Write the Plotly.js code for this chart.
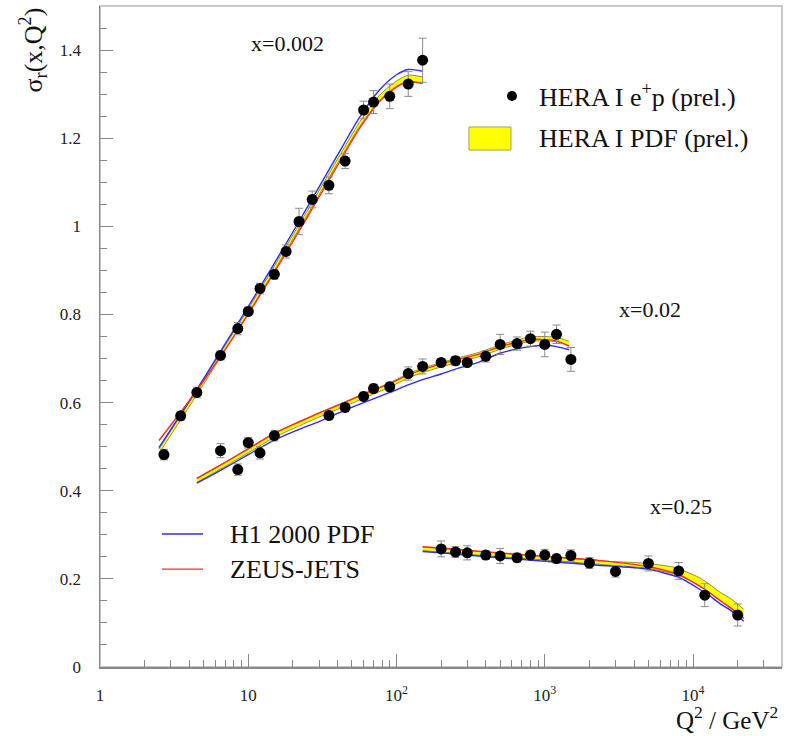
<!DOCTYPE html>
<html>
<head>
<meta charset="utf-8">
<script src="https://cdn.plot.ly/plotly-3.0.1.min.js"></script>
<style>
html,body{margin:0;padding:0;background:#fff;}
#chart{width:793px;height:736px;}
</style>
</head>
<body>
<div id="chart"></div>
<script>
// ---------- data points (HERA I e+p prel.) ----------
const q2Data002 = [2.7, 3.5, 4.5, 6.5, 8.5, 10, 12, 15, 18, 22, 27, 35, 45, 60, 70, 90, 120, 150];
const sigData002 = [0.482, 0.570, 0.623, 0.707, 0.768, 0.807, 0.859, 0.891, 0.943, 1.011, 1.061, 1.093, 1.148, 1.264, 1.282, 1.295, 1.323, 1.377];
const errData002 = [0.012, 0.010, 0.012, 0.010, 0.014, 0.010, 0.012, 0.011, 0.015, 0.030, 0.019, 0.019, 0.017, 0.020, 0.026, 0.028, 0.028, 0.050];

const q2Data02 = [6.5, 8.5, 10, 12, 15, 35, 45, 60, 70, 90, 120, 150, 200, 250, 300, 400, 500, 650, 800, 1000, 1200, 1500];
const sigData02 = [0.491, 0.448, 0.509, 0.486, 0.525, 0.571, 0.589, 0.614, 0.632, 0.636, 0.666, 0.682, 0.691, 0.695, 0.691, 0.705, 0.732, 0.734, 0.745, 0.732, 0.755, 0.698];
const errData02 = [0.016, 0.013, 0.012, 0.014, 0.012, 0.010, 0.010, 0.010, 0.010, 0.010, 0.015, 0.017, 0.008, 0.010, 0.008, 0.013, 0.023, 0.015, 0.017, 0.028, 0.021, 0.027];

const q2Data25 = [200, 250, 300, 400, 500, 650, 800, 1000, 1200, 1500, 2000, 3000, 5000, 8000, 12000, 20000];
const sigData25 = [0.268, 0.261, 0.259, 0.254, 0.252, 0.248, 0.254, 0.254, 0.246, 0.253, 0.236, 0.217, 0.235, 0.218, 0.163, 0.118];
const errData25 = [0.018, 0.012, 0.016, 0.010, 0.017, 0.010, 0.010, 0.013, 0.010, 0.013, 0.012, 0.013, 0.017, 0.019, 0.026, 0.025];

// ---------- curves x=0.002 ----------
const q2Curve002 = [2.5, 3.5, 4.5, 6.5, 10, 15, 22, 30, 42, 56, 77, 100, 120, 150];
const bandLo002 = [0.485, 0.561, 0.618, 0.703, 0.803, 0.900, 0.994, 1.071, 1.155, 1.225, 1.286, 1.318, 1.329, 1.325];
const bandHi002 = [0.495, 0.571, 0.628, 0.713, 0.813, 0.910, 1.004, 1.081, 1.165, 1.235, 1.298, 1.330, 1.343, 1.339];
const blue002 = [0.498, 0.573, 0.630, 0.716, 0.818, 0.916, 1.011, 1.089, 1.174, 1.246, 1.310, 1.344, 1.356, 1.352];
const red002 = [0.514, 0.578, 0.628, 0.705, 0.801, 0.896, 0.989, 1.066, 1.150, 1.221, 1.284, 1.316, 1.328, 1.324];

// ---------- curves x=0.02 ----------
const q2Curve02 = [4.5, 6.5, 10, 15, 22, 30, 43, 60, 90, 120, 150, 200, 250, 360, 500, 650, 800, 1000, 1200, 1460];
const bandLo02 = [0.419, 0.449, 0.486, 0.521, 0.547, 0.567, 0.589, 0.610, 0.635, 0.656, 0.668, 0.681, 0.690, 0.704, 0.721, 0.732, 0.739, 0.740, 0.738, 0.729];
const bandHi02 = [0.429, 0.459, 0.496, 0.531, 0.557, 0.577, 0.599, 0.620, 0.645, 0.666, 0.678, 0.691, 0.700, 0.714, 0.731, 0.742, 0.749, 0.750, 0.748, 0.739];
const blue02 = [0.417, 0.446, 0.482, 0.515, 0.539, 0.557, 0.580, 0.600, 0.623, 0.640, 0.652, 0.665, 0.676, 0.692, 0.712, 0.722, 0.727, 0.730, 0.727, 0.720];
const red02 = [0.428, 0.458, 0.495, 0.530, 0.556, 0.576, 0.598, 0.619, 0.643, 0.663, 0.675, 0.688, 0.697, 0.710, 0.727, 0.737, 0.743, 0.743, 0.740, 0.728];

// ---------- curves x=0.25 ----------
const q2Curve25 = [150, 200, 300, 500, 1000, 2300, 4900, 7800, 9000, 11000, 13000, 15000, 18000, 22000];
const bandLo25 = [0.264, 0.261, 0.256, 0.250, 0.243, 0.233, 0.224, 0.209, 0.200, 0.185, 0.169, 0.153, 0.135, 0.111];
const bandHi25 = [0.272, 0.269, 0.264, 0.258, 0.251, 0.241, 0.235, 0.225, 0.216, 0.203, 0.187, 0.171, 0.155, 0.131];
const blue25 = [0.262, 0.259, 0.254, 0.248, 0.240, 0.231, 0.222, 0.205, 0.195, 0.177, 0.161, 0.145, 0.128, 0.104];
const red25 = [0.273, 0.270, 0.265, 0.259, 0.251, 0.242, 0.228, 0.211, 0.201, 0.184, 0.168, 0.152, 0.133, 0.110];

// ---------- texts ----------
const xTickVals = [1, 10, 100, 1000, 10000];
const xTickText = ['1', '10', '10<sup>2</sup>', '10<sup>3</sup>', '10<sup>4</sup>'];
const yTickVals = [0, 0.2, 0.4, 0.6, 0.8, 1.0, 1.2, 1.4];
const yTickText = ['0', '0.2', '0.4', '0.6', '0.8', '1', '1.2', '1.4'];
const setLabels = ['x=0.002', 'x=0.02', 'x=0.25'];

const FONT = 'Liberation Serif, Times New Roman, serif';
const BLUE = '#2b2bff';
const RED = '#ff2a2a';
const BANDEDGE = 'rgba(70,70,0,0.85)';

const sets = [
  {q: q2Curve002, lo: bandLo002, hi: bandHi002, b: blue002, r: red002, dq: q2Data002, ds: sigData002, de: errData002},
  {q: q2Curve02, lo: bandLo02, hi: bandHi02, b: blue02, r: red02, dq: q2Data02, ds: sigData02, de: errData02},
  {q: q2Curve25, lo: bandLo25, hi: bandHi25, b: blue25, r: red25, dq: q2Data25, ds: sigData25, de: errData25}
];

const traces = [];
const lineShape = {shape: 'spline', smoothing: 0.7};
sets.forEach(s => {
  traces.push({x: s.q, y: s.hi, mode: 'lines', line: Object.assign({color: BANDEDGE, width: 0.7}, lineShape), hoverinfo: 'skip', showlegend: false});
  traces.push({x: s.q, y: s.lo, mode: 'lines', fill: 'tonexty', fillcolor: '#ffff00', line: Object.assign({color: BANDEDGE, width: 0.7}, lineShape), hoverinfo: 'skip', showlegend: false});
});
sets.forEach(s => {
  traces.push({x: s.q, y: s.b, mode: 'lines', line: Object.assign({color: BLUE, width: 1.4}, lineShape), showlegend: false});
});
sets.forEach(s => {
  traces.push({x: s.q, y: s.r, mode: 'lines', line: Object.assign({color: RED, width: 1.4}, lineShape), showlegend: false});
});
sets.forEach(s => {
  traces.push({
    x: s.dq, y: s.ds, mode: 'markers',
    marker: {symbol: 'circle', size: 11, color: '#000'},
    error_y: {type: 'data', array: s.de, visible: true, color: '#8a8a8a', thickness: 1, width: 4},
    showlegend: false
  });
});

const layout = {
  width: 793, height: 736,
  margin: {l: 100, r: 11, t: 6, b: 69, pad: 0},
  paper_bgcolor: '#fff', plot_bgcolor: '#fff',
  showlegend: false,
  font: {family: FONT, color: '#111'},
  xaxis: {
    type: 'log', range: [0, 4.6], autorange: false,
    tickmode: 'array', tickvals: xTickVals, ticktext: xTickText,
    ticks: 'inside', ticklen: 13, tickwidth: 1, tickcolor: '#888',
    minor: {ticks: 'inside', ticklen: 7, tickwidth: 1, tickcolor: '#888', dtick: 'D1', showgrid: false},
    showgrid: false, zeroline: false,
    showline: true, linecolor: '#888', linewidth: 1.5,
    tickfont: {family: FONT, size: 17, color: '#222'},
    ticklabelstandoff: 12
  },
  yaxis: {
    range: [0, 1.5], autorange: false,
    tickmode: 'array', tickvals: yTickVals, ticktext: yTickText,
    ticks: 'inside', ticklen: 13, tickwidth: 1, tickcolor: '#888',
    minor: {ticks: 'inside', ticklen: 7, tickwidth: 1, tickcolor: '#888', dtick: 0.05, showgrid: false},
    showgrid: false, zeroline: false,
    showline: true, linecolor: '#888', linewidth: 1.5,
    tickfont: {family: FONT, size: 17, color: '#222'},
    ticklabelstandoff: 14
  },
  shapes: [
    {type: 'rect', xref: 'paper', yref: 'paper', x0: 0, x1: 1, y0: 0, y1: 1, line: {color: '#b5b5b5', width: 1.5}, layer: 'below'},
    // legend symbols
    {type: 'circle', xref: 'paper', yref: 'paper', x0: 0.5968, x1: 0.6114, y0: 0.8563, y1: 0.8714, fillcolor: '#000', line: {color: '#000', width: 0}},
    {type: 'rect', xref: 'paper', yref: 'paper', x0: 0.541, x1: 0.6026, y0: 0.782, y1: 0.817, fillcolor: '#ffff00', line: {color: '#a0a070', width: 1}},
    {type: 'line', xref: 'paper', yref: 'paper', x0: 0.0909, x1: 0.151, y0: 0.2012, y1: 0.2012, line: {color: BLUE, width: 1.4}},
    {type: 'line', xref: 'paper', yref: 'paper', x0: 0.0909, x1: 0.151, y0: 0.148, y1: 0.148, line: {color: RED, width: 1.4}}
  ],
  annotations: [
    {text: setLabels[0], x: 1.268, y: 1.416, xref: 'x', yref: 'y', showarrow: false, font: {family: FONT, size: 22, color: '#111'}},
    {text: setLabels[1], x: 3.71, y: 0.812, xref: 'x', yref: 'y', showarrow: false, font: {family: FONT, size: 22, color: '#111'}},
    {text: setLabels[2], x: 3.919, y: 0.365, xref: 'x', yref: 'y', showarrow: false, font: {family: FONT, size: 22, color: '#111'}},
    {text: 'HERA I e<sup>+</sup>p (prel.)', xref: 'paper', yref: 'paper', x: 0.6408, y: 0.864, xanchor: 'left', yanchor: 'middle', showarrow: false, font: {family: FONT, size: 26, color: '#111'}},
    {text: 'HERA I PDF (prel.)', xref: 'paper', yref: 'paper', x: 0.6408, y: 0.799, xanchor: 'left', yanchor: 'middle', showarrow: false, font: {family: FONT, size: 26, color: '#111'}},
    {text: 'H1 2000 PDF', xref: 'paper', yref: 'paper', x: 0.1877, y: 0.2012, xanchor: 'left', yanchor: 'middle', showarrow: false, font: {family: FONT, size: 26, color: '#111'}},
    {text: 'ZEUS-JETS', xref: 'paper', yref: 'paper', x: 0.1877, y: 0.148, xanchor: 'left', yanchor: 'middle', showarrow: false, font: {family: FONT, size: 26, color: '#111'}},
    {text: 'σ<sub>r</sub>(x,Q<sup>2</sup>)', xref: 'paper', yref: 'paper', x: -0.098, y: 0.933, xanchor: 'center', yanchor: 'middle', textangle: -90, showarrow: false, font: {family: FONT, size: 26, color: '#111'}},
    {text: 'Q<sup>2</sup> / GeV<sup>2</sup>', xref: 'paper', yref: 'paper', x: 0.997, y: -0.077, xanchor: 'right', yanchor: 'middle', showarrow: false, font: {family: FONT, size: 25, color: '#111'}}
  ]
};

Plotly.newPlot('chart', traces, layout, {staticPlot: true, displayModeBar: false});
</script>
</body>
</html>
